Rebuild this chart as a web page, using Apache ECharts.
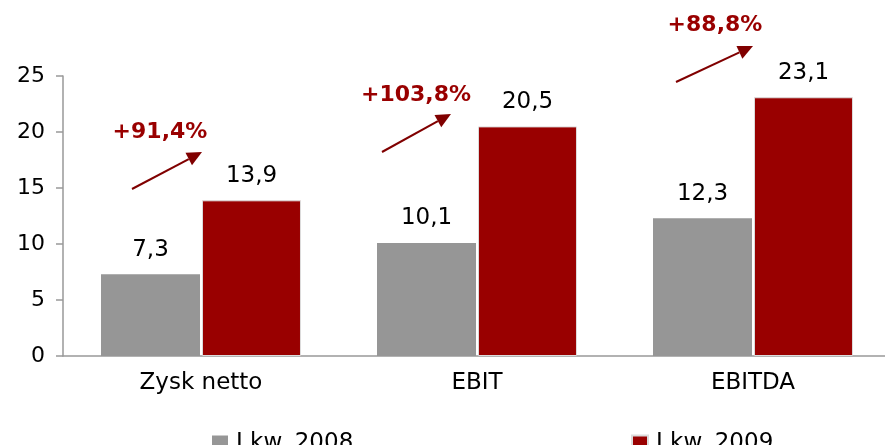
<!DOCTYPE html>
<html>
<head>
<meta charset="utf-8">
<script src="https://cdn.jsdelivr.net/npm/echarts@6/dist/echarts.min.js"></script>
<style>
  html, body { margin: 0; padding: 0; background: #fff; overflow: hidden; }
  #chart { width: 891px; height: 445px; }
</style>
</head>
<body>
<div id="chart"></div>
<script>
  var categories = ['Zysk netto', 'EBIT', 'EBITDA'];
  var values2008 = [7.3, 10.1, 12.3];
  var values2009 = [13.9, 20.5, 23.1];
  var growthLabels = ['+91,4%', '+103,8%', '+88,8%'];
  var yTicks = [0, 5, 10, 15, 20, 25];

  var FONT = 'DejaVu Sans';
  var GRAY = '#969696';
  var RED = '#990000';

  // annotation placement (pixels): text center, arrow start, arrow tip
  var notes = [
    { text: [160, 132], from: [132, 189], to: [202, 152] },
    { text: [416, 95], from: [382, 152], to: [451, 114] },
    { text: [715, 25], from: [676, 82], to: [753, 46] }
  ];

  function fmt(v) { return String(v).replace('.', ','); }

  function arrow(n, label) {
    var dx = n.to[0] - n.from[0], dy = n.to[1] - n.from[1];
    var len = Math.sqrt(dx * dx + dy * dy);
    var ux = dx / len, uy = dy / len;
    var hl = 15, hw = 7;
    var bx = n.to[0] - ux * hl, by = n.to[1] - uy * hl;
    return [
      {
        type: 'line',
        shape: { x1: n.from[0], y1: n.from[1], x2: bx, y2: by },
        style: { stroke: '#800000', lineWidth: 2 }
      },
      {
        type: 'polygon',
        shape: { points: [n.to, [bx - uy * hw, by + ux * hw], [bx + uy * hw, by - ux * hw]] },
        style: { fill: '#800000' }
      },
      {
        type: 'text',
        x: n.text[0], y: n.text[1],
        style: {
          text: label, fill: RED, font: 'bold 22px "' + FONT + '"',
          align: 'center', verticalAlign: 'middle'
        }
      }
    ];
  }

  var graphics = [];
  notes.forEach(function (n, i) { graphics = graphics.concat(arrow(n, growthLabels[i])); });

  var chart = echarts.init(document.getElementById('chart'));
  var option = {
    animation: false,
    textStyle: { fontFamily: FONT },
    grid: { left: 63, right: 0, top: 76, bottom: 89, containLabel: false },
    legend: [
      {
        data: ['I kw. 2008'], left: 207, top: 427,
        icon: 'rect', itemWidth: 16, itemHeight: 16,
        textStyle: { fontFamily: FONT, fontSize: 23, color: '#000', padding: [0, 0, 0, 3] }
      },
      {
        data: ['I kw. 2009'], left: 626, top: 427,
        icon: 'rect', itemWidth: 16, itemHeight: 16,
        textStyle: { fontFamily: FONT, fontSize: 23, color: '#000', padding: [0, 0, 0, 3] }
      }
    ],
    xAxis: {
      type: 'category',
      data: categories,
      axisLine: { lineStyle: { color: '#999', width: 1.5 } },
      axisTick: { show: false },
      axisLabel: { color: '#000', fontFamily: FONT, fontSize: 23, margin: 16 }
    },
    yAxis: {
      type: 'value',
      min: yTicks[0], max: yTicks[yTicks.length - 1], interval: 5,
      splitLine: { show: false },
      axisLine: { show: true, lineStyle: { color: '#999', width: 1.5 } },
      axisTick: { show: true, length: 7, lineStyle: { color: '#999', width: 1.5 } },
      axisLabel: { color: '#000', fontFamily: FONT, fontSize: 22, margin: 18 }
    },
    series: [
      {
        name: 'I kw. 2008', type: 'bar', data: values2008,
        barWidth: 99, barGap: '2%',
        itemStyle: { color: GRAY },
        label: {
          show: true, position: 'top', distance: 13,
          color: '#000', fontFamily: FONT, fontSize: 23, formatter: function (p) { return fmt(p.value); }
        }
      },
      {
        name: 'I kw. 2009', type: 'bar', data: values2009,
        barWidth: 99,
        itemStyle: { color: RED, borderColor: '#dcdcdc', borderWidth: 1 },
        label: {
          show: true, position: 'top', distance: 13,
          color: '#000', fontFamily: FONT, fontSize: 23, formatter: function (p) { return fmt(p.value); }
        }
      }
    ],
    graphic: graphics
  };
  chart.setOption(option);
</script>
</body>
</html>
